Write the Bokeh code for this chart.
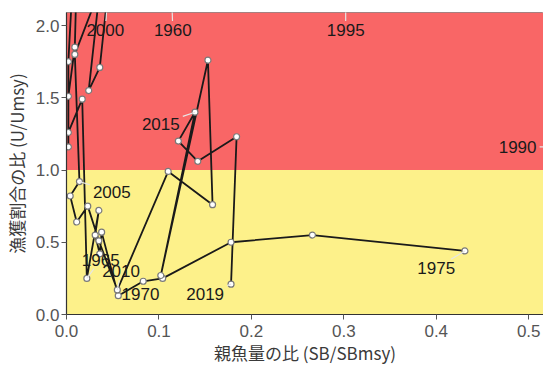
import math
from bokeh.plotting import figure
from bokeh.models import Range1d, BoxAnnotation, FixedTicker, PrintfTickFormatter
from bokeh.core.properties import value
from bokeh.embed import file_html
from bokeh.resources import INLINE

# ---- data: spawning-biomass ratio vs. exploitation-rate ratio by year ----
years = list(range(1960, 2020))
sb_ratio = [
    0.110, 0.010, 0.002, 0.002, 0.017, 0.022, 0.035, 0.031, 0.036, 0.038,  # 1960-69
    0.056, 0.083, 0.104, 0.178, 0.266, 0.431, 0.58, 0.71, 0.86, 1.02,      # 1970-79
    1.18, 1.30, 1.41, 1.47, 1.44, 1.33, 1.17, 1.00, 0.86, 0.72,            # 1980-89
    0.62, 0.002, 0.002, 0.009, 0.012, 0.302, 0.190, 0.100, 0.065, 0.052,  # 1990-99
    0.045, 0.036, 0.024, 0.036, 0.009, 0.014, 0.004, 0.011, 0.023, 0.035,  # 2000-09
    0.055, 0.110, 0.158, 0.153, 0.102, 0.139, 0.121, 0.142, 0.184, 0.178,  # 2010-19
]
u_ratio = [
    2.90, 2.70, 1.75, 1.26, 1.49, 0.25, 0.72, 0.55, 0.42, 0.57,
    0.13, 0.23, 0.25, 0.50, 0.55, 0.44, 0.40, 0.37, 0.33, 0.31,
    0.35, 0.38, 0.42, 0.47, 0.55, 0.63, 0.72, 0.84, 0.95, 1.05,
    1.16, 1.16, 1.51, 1.85, 2.60, 2.80, 3.10, 2.90, 2.60, 2.40,
    2.25, 1.71, 1.55, 2.25, 1.80, 0.92, 0.82, 0.64, 0.75, 0.51,
    0.17, 0.99, 0.76, 1.76, 0.27, 1.40, 1.20, 1.06, 1.23, 0.21,
]
label_years = [1960, 1965, 1970, 1975, 1990, 1995, 2000, 2005, 2010, 2015, 2019]
u_limit = 1.0
x_ticks = [0.0, 0.1, 0.2, 0.3, 0.4, 0.5]
y_ticks = [0.0, 0.5, 1.0, 1.5, 2.0]

# ---- layout ----
W, H = 543, 367
LEFT, RIGHT, TOP, BOTTOM = 66, 0, 12, 50
X_MAX, Y_MAX = 0.516, 2.09
# where each year label sits (data units)
LABEL_POS = {
    1960: (0.115, 1.97), 1965: (0.037, 0.38), 1970: (0.080, 0.14),
    1975: (0.400, 0.32), 1990: (0.488, 1.16), 1995: (0.302, 1.97),
    2000: (0.042, 1.97), 2005: (0.049, 0.85), 2010: (0.059, 0.30),
    2015: (0.102, 1.32), 2019: (0.150, 0.14),
}
RED, YELLOW = "#f96666", "#fdf18a"
INK = "#1a1a1a"

p = figure(width=W, height=H, output_backend="svg", toolbar_location=None,
           x_range=Range1d(0, X_MAX), y_range=Range1d(0, Y_MAX),
           min_border_left=LEFT, min_border_right=RIGHT,
           min_border_top=TOP, min_border_bottom=BOTTOM)
p.background_fill_color = "white"
p.border_fill_color = "white"
p.outline_line_color = "#8a8a8a"
p.grid.visible = False

# status zones
p.add_layout(BoxAnnotation(bottom=u_limit, fill_color=RED, fill_alpha=1.0,
                           line_alpha=0, level="underlay"))
p.add_layout(BoxAnnotation(top=u_limit, fill_color=YELLOW, fill_alpha=1.0,
                           line_alpha=0, level="underlay"))

# trajectory; years with biomass beyond the x-limit are dropped (path breaks)
nan = float("nan")
line_x = [x if x <= X_MAX else nan for x in sb_ratio]
line_y = [y if x <= X_MAX else nan for x, y in zip(sb_ratio, u_ratio)]
p.line(line_x, line_y, line_color=INK, line_width=1.8)
p.scatter(line_x, line_y, marker="circle", size=6, fill_color="white",
          line_color="#7a7a7a", line_width=1.2)

# leader segments from label box edge to the point
sx = (W - LEFT - RIGHT) / X_MAX
sy = (H - TOP - BOTTOM) / Y_MAX
hw, hh = 22.0, 9.0
x0s, y0s, x1s, y1s = [], [], [], []
for yr in label_years:
    i = years.index(yr)
    px, py = sb_ratio[i], u_ratio[i]
    lx, ly = LABEL_POS[yr]
    dx, dy = (px - lx) * sx, (py - ly) * sy
    dist = math.hypot(dx, dy)
    t = min(hw / abs(dx) if dx else 1e9, hh / abs(dy) if dy else 1e9)
    if t >= 1 or dist * (1 - t) < 4:
        continue
    x0s.append(lx + t * (px - lx)); y0s.append(ly + t * (py - ly))
    x1s.append(px); y1s.append(py)
p.segment(x0s, y0s, x1s, y1s, line_color="#e6e6e6", line_width=1.2)

p.text([LABEL_POS[y][0] for y in label_years], [LABEL_POS[y][1] for y in label_years],
       text=[str(y) for y in label_years], text_font=value("Liberation Sans"),
       text_font_size="17px", text_color=INK, text_align="center",
       text_baseline="middle")

# axes
for ax, ticks in ((p.xaxis, x_ticks), (p.yaxis, y_ticks)):
    ax.ticker = FixedTicker(ticks=ticks)
    ax.formatter = PrintfTickFormatter(format="%.1f")
    ax.axis_line_color = "#333333"
    ax.axis_line_width = 1.2
    ax.major_tick_line_color = "#555555"
    ax.major_tick_in = 0
    ax.major_tick_out = 5
    ax.minor_tick_line_color = None
    ax.major_label_text_font = "Liberation Sans"
    ax.major_label_text_font_size = "17px"
    ax.major_label_text_color = "#555555"
    ax.axis_label_text_font = "Noto Sans CJK JP"
    ax.axis_label_text_font_size = "17px"
    ax.axis_label_text_font_style = "normal"
    ax.axis_label_text_color = "#3a3a3a"
p.xaxis.major_label_standoff = 5
p.xaxis.axis_label_standoff = 0
p.yaxis.major_label_standoff = 2
p.yaxis.axis_label_standoff = 4
p.xaxis.axis_label = "親魚量の比 (SB/SBmsy)"
p.yaxis.axis_label = "漁獲割合の比 (U/Umsy)"

open("out.html", "w").write(file_html(p, INLINE))
